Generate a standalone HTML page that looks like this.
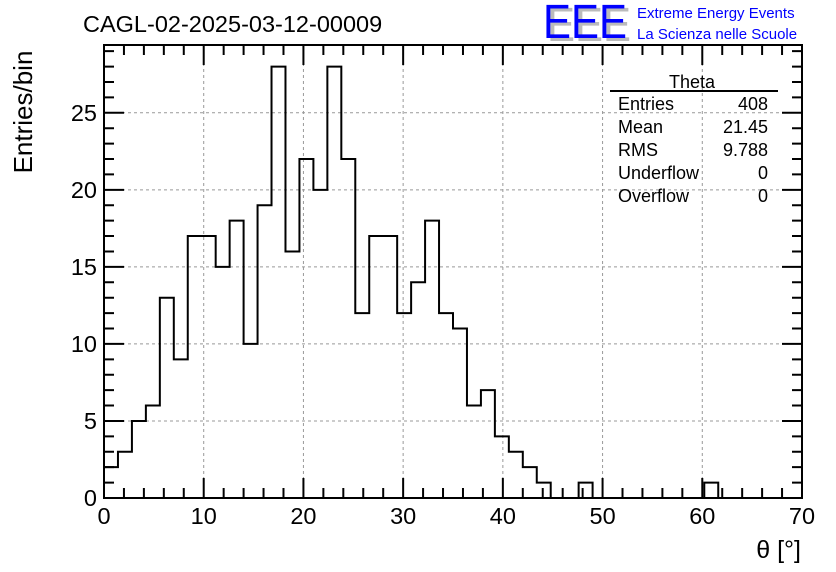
<!DOCTYPE html>
<html><head><meta charset="utf-8"><style>
body{margin:0;background:#fff}
svg{display:block;font-family:"Liberation Sans",sans-serif}
</style></head><body>
<svg id="c" width="836" height="572">
<text x="83" y="32" font-size="23.5">CAGL-02-2025-03-12-00009</text>
<g>
<text x="547" y="41" font-size="48" fill="#bbb" textLength="84" lengthAdjust="spacingAndGlyphs">EEE</text>
<text x="543" y="38" font-size="48" fill="#0000ff" textLength="84" lengthAdjust="spacingAndGlyphs">EEE</text>
<text x="637" y="18" font-size="15" fill="#0000ff">Extreme Energy Events</text>
<text x="637" y="39" font-size="15" fill="#0000ff">La Scienza nelle Scuole</text>
</g>
<g id="grid"></g>
<g id="ticks"></g>
<path id="hist" fill="none" stroke="#000" stroke-width="2"/>
<rect x="104" y="45" width="698" height="453" fill="none" stroke="#000" stroke-width="2"/>
<g id="labels"></g>
<g font-size="18">
<text x="692" y="88" text-anchor="middle">Theta</text>
<line x1="610" y1="91" x2="778" y2="91" stroke="#000" stroke-width="2"/>
<text x="618" y="110">Entries</text><text x="768" y="110" text-anchor="end">408</text>
<text x="618" y="133">Mean</text><text x="768" y="133" text-anchor="end">21.45</text>
<text x="618" y="156">RMS</text><text x="768" y="156" text-anchor="end">9.788</text>
<text x="618" y="179">Underflow</text><text x="768" y="179" text-anchor="end">0</text>
<text x="618" y="202">Overflow</text><text x="768" y="202" text-anchor="end">0</text>
</g>
<text transform="translate(32,112) rotate(-90)" text-anchor="middle" font-size="26">Entries/bin</text>
<text x="801" y="558" text-anchor="end" font-size="25">θ [°]</text>
</svg>
<script>
const binCounts=[2,3,5,6,13,9,17,17,15,18,10,19,28,16,22,20,28,22,12,17,17,12,14,18,12,11,6,7,4,3,2,1,0,0,1,0,0,0,0,0,0,0,0,1,0,0,0,0,0,0];
const xTicks=[0,10,20,30,40,50,60,70];
const yTicks=[0,5,10,15,20,25];
const xMin=0,xMax=70,yMin=0,yMax=29.4;
const X0=104,X1=802,Y0=498,Y1=45;
const sx=v=>X0+(v-xMin)/(xMax-xMin)*(X1-X0);
const sy=v=>Y0-(v-yMin)/(yMax-yMin)*(Y0-Y1);
const NS="http://www.w3.org/2000/svg";
function mk(t,a,p){const e=document.createElementNS(NS,t);for(const k in a)e.setAttribute(k,a[k]);p.appendChild(e);return e;}
const grid=document.getElementById('grid'),ticks=document.getElementById('ticks'),labels=document.getElementById('labels');
xTicks.forEach(v=>{
 if(v>xMin&&v<xMax){const l=mk('line',{x1:sx(v),x2:sx(v),y1:Y0,y2:Y1,stroke:'#999','stroke-dasharray':'3,3'},grid);
 
 }
 const t=mk('text',{x:sx(v),y:524,'text-anchor':'middle','font-size':23.5},labels);t.textContent=v;
 
 
});
yTicks.forEach(v=>{
 if(v>yMin){const l=mk('line',{x1:X0,x2:X1,y1:sy(v),y2:sy(v),stroke:'#999','stroke-dasharray':'3,3'},grid);
 
 }
 const t=mk('text',{x:97,y:sy(v)+8,'text-anchor':'end','font-size':23.5},labels);t.textContent=v;
 
 
});
let d='';
for(let v=0;v<=70;v+=2){const L=v%10==0?20:10;
 d+=`M${sx(v)},${Y0}v${-L}M${sx(v)},${Y1}v${L}`;}
for(let v=0;v<=29;v++){const L=v%5==0?20:10;
 d+=`M${X0},${sy(v)}h${L}M${X1},${sy(v)}h${-L}`;}
const tk=mk('path',{d:d,stroke:'#000','stroke-width':2,fill:'none'},ticks);


const bw=(xMax-xMin)/binCounts.length;
let p=`M${sx(0)},${sy(0)}`;
binCounts.forEach((c,i)=>{p+=`V${sy(c)}H${sx((i+1)*bw)}`;});
p+=`V${sy(0)}`;
document.getElementById('hist').setAttribute('d',p);
</script>
</body></html>
